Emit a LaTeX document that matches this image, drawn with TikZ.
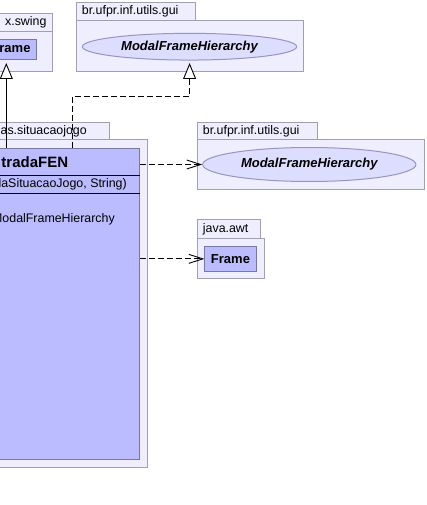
\documentclass[tikz,border=0pt]{standalone}
\usepackage{fontspec}
\setmainfont{Liberation Sans}
\usetikzlibrary{arrows.meta,shapes.geometric,positioning}

\definecolor{paqfondo}{RGB}{238,238,255}
\definecolor{paqborde}{RGB}{160,160,178}
\definecolor{clasefondo}{RGB}{187,187,255}
\definecolor{claseborde}{RGB}{120,120,165}
\definecolor{interfondo}{RGB}{221,221,255}
\definecolor{interborde}{RGB}{150,150,190}

\newcommand{\letra}[1]{\fontsize{#1}{#1}\selectfont}

\tikzset{
  paquete/.style={draw=paqborde, fill=paqfondo, line width=1pt, anchor=north west, inner sep=0pt},
  clase/.style={draw=claseborde, fill=clasefondo, line width=1pt, anchor=north west, inner sep=0pt},
  interfaz/.style={ellipse, draw=interborde, fill=interfondo, line width=1pt, inner sep=0pt, font=\letra{13}\bfseries\itshape},
  etiq/.style={inner sep=0pt, font=\letra{12.4}},
  titulo/.style={inner sep=0pt, font=\letra{15}\bfseries},
  nombre/.style={inner sep=0pt, font=\letra{13}\bfseries},
  separa/.style={black, line width=1pt},
  herencia/.style={black, line width=0.9pt, -{Triangle[fill=white, length=16pt, width=13pt]}},
  realiza/.style={herencia, dash pattern=on 6pt off 3pt},
  depende/.style={black, line width=0.9pt, dash pattern=on 6pt off 3pt, -{Straight Barb[length=14pt, width=9pt]}}
}

\begin{document}
\begin{tikzpicture}[x=1pt, y=-1pt]
% Recortamos al tamano de la imagen, lo de la izquierda queda fuera
\clip (0,0) rectangle (426,505);

% Paquete javax.swing (cortado)
\node[paquete, minimum width=81.7pt, minimum height=18pt] (swingTab) at (-30,12.7) {};
\node[paquete, minimum width=81.7pt, minimum height=40.3pt] (swingPkg) at (-30,30.7) {};
\node[etiq, left=6pt of swingTab.east] (swingNombre) {x.swing};
\node[clase, minimum width=65.7pt, minimum height=19.7pt] (jframe) at (-30,39.3) {};
\node[nombre, anchor=east] (jframeNombre) at (30.7,49.2) {rame};

% Paquete br.ufpr.inf.utils.gui de arriba
\node[paquete, minimum width=119pt, minimum height=18.3pt] (guiTopTab) at (76,1.7) {};
\node[paquete, minimum width=227.3pt, minimum height=50.7pt] (guiTopPkg) at (76,20) {};
\node[etiq, right=5.7pt of guiTopTab.west] (guiTopNombre) {br.ufpr.inf.utils.gui};
\node[interfaz, minimum width=214.4pt, minimum height=26.7pt] (mfhTop) at (189.5,46.7) {ModalFrameHierarchy};

% Paquete situacaojogo con la clase grande
\node[paquete, minimum width=139.3pt, minimum height=17.3pt] (sitTab) at (-30,122) {};
\node[paquete, minimum width=176.7pt, minimum height=328pt] (sitPkg) at (-30,139.3) {};
\node[etiq, left=23.3pt of sitTab.east] (sitNombre) {as.situacaojogo};
\node[clase, minimum width=168.7pt, minimum height=311.3pt] (entrada) at (-30,148) {};
\coordinate (sepA) at (0,175);
\coordinate (sepB) at (0,193);
\draw[separa] (entrada.west |- sepA) -- (entrada.east |- sepA);
\draw[separa] (entrada.west |- sepB) -- (entrada.east |- sepB);
\node[titulo, anchor=east] (entradaNombre) at (68.3,161.7) {tradaFEN};
\node[etiq, anchor=east] (entradaCons) at (127,184) {laSituacaoJogo, String)};
\node[etiq, anchor=east] (entradaOp) at (115,219) {ModalFrameHierarchy};

% Paquete br.ufpr.inf.utils.gui de la derecha
\node[paquete, minimum width=120pt, minimum height=17.6pt] (guiTab) at (196.7,121.7) {};
\node[paquete, minimum width=227.6pt, minimum height=49.7pt] (guiPkg) at (196.7,139.3) {};
\node[etiq, right=6pt of guiTab.west] (guiNombre) {br.ufpr.inf.utils.gui};
\node[interfaz, minimum width=213.3pt, minimum height=34pt] (mfh) at (309.3,164.5) {ModalFrameHierarchy};

% Paquete java.awt
\node[paquete, minimum width=63.3pt, minimum height=19pt] (awtTab) at (196.7,219.3) {};
\node[paquete, minimum width=67.6pt, minimum height=40pt] (awtPkg) at (196.7,238.3) {};
\node[etiq, right=6pt of awtTab.west] (awtNombre) {java.awt};
\node[clase, minimum width=51.4pt, minimum height=24.7pt, font=\letra{13}\bfseries] (frame) at (204.3,246) {Frame};

% Flechas
\coordinate (jfTip) at (6.3,63);
\coordinate (mfhTip) at (189.6,63);
\coordinate (dobla) at (72.7,96.7);
\draw[herencia] (jfTip |- entrada.north) -- (jfTip);
\draw[realiza] (dobla |- entrada.north) -- (dobla) -| (mfhTip);
\draw[depende] (entrada.east |- mfh.west) -- (mfh.west);
\draw[depende] (entrada.east |- frame.west) -- (frame.west);
\end{tikzpicture}
\end{document}
